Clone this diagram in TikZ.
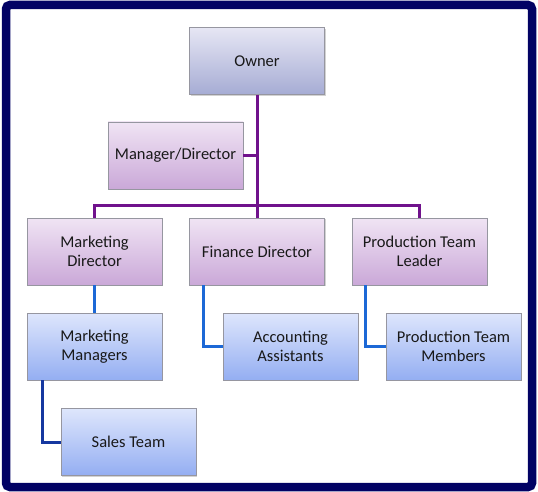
\documentclass[tikz,border=0pt]{standalone}
\usepackage{fontspec}
\setmainfont{Carlito}
\usetikzlibrary{shadows}

\definecolor{framenavy}{RGB}{2,2,100}
\definecolor{orgpurple}{RGB}{112,18,140}
\definecolor{orgblue}{RGB}{28,104,214}
\definecolor{orgdarkblue}{RGB}{22,56,160}
\definecolor{boxedge}{RGB}{150,150,160}

\begin{document}
\begin{tikzpicture}[x=1pt,y=-1pt]
\tikzset{orgbox/.style={draw=boxedge,line width=0.8pt,minimum width=135pt,minimum height=67pt,align=center,
    font=\fontsize{16.5}{19}\selectfont,text=black!90,
    drop shadow={opacity=0.35,shadow xshift=1.2pt,shadow yshift=-1.2pt}},
  ownerbox/.style={orgbox,top color={rgb,255:red,230;green,230;blue,244},bottom color={rgb,255:red,166;green,172;blue,212}},
  purplebox/.style={orgbox,top color={rgb,255:red,240;green,228;blue,244},bottom color={rgb,255:red,202;green,168;blue,216}},
  bluebox/.style={orgbox,top color={rgb,255:red,222;green,230;blue,252},bottom color={rgb,255:red,148;green,174;blue,242}},
  purpleline/.style={orgpurple,line width=3pt},
  blueline/.style={orgblue,line width=3pt},
  darkblueline/.style={orgdarkblue,line width=3pt}};
\useasboundingbox (0,0) rectangle (538,492);
\fill[white] (0,0) rectangle (538,492);
\draw[framenavy,line width=8.5pt,rounded corners=4pt] (6,5) rectangle (532,487);
% boxes
\node[ownerbox] (owner) at (257,61) {Owner};
\node[purplebox] (manager) at (175.5,155.5) {Manager/Director};
\node[purplebox] (mktdir) at (94.5,251.5) {Marketing\\Director};
\node[purplebox] (findir) at (257,251.5) {Finance Director};
\node[purplebox] (prodlead) at (419.5,251.5) {Production Team\\Leader};
\node[bluebox] (mktman) at (94.5,346.5) {Marketing\\Managers};
\node[bluebox] (accounts) at (290.5,346.5) {Accounting\\Assistants};
\node[bluebox] (prodmem) at (453.5,346.5) {Production Team\\Members};
\node[bluebox] (sales) at (128.5,442) {Sales Team};
% purple connectors
\coordinate (bar) at (257,205);
\draw[purpleline] (owner.south) -- (findir.north);
\draw[purpleline] (manager.east) -- (manager.east -| owner);
\draw[purpleline,line join=miter] (mktdir.north) |- (bar) -| (prodlead.north);
% blue connectors
\draw[blueline] (mktdir.south) -- (mktman.north);
\draw[blueline] (findir.south west) ++(14pt,0) |- (accounts.west);
\draw[blueline] (prodlead.south west) ++(14pt,0) |- (prodmem.west);
\draw[darkblueline] (mktman.south west) ++(16pt,0) |- (sales.west);
\end{tikzpicture}
\end{document}
